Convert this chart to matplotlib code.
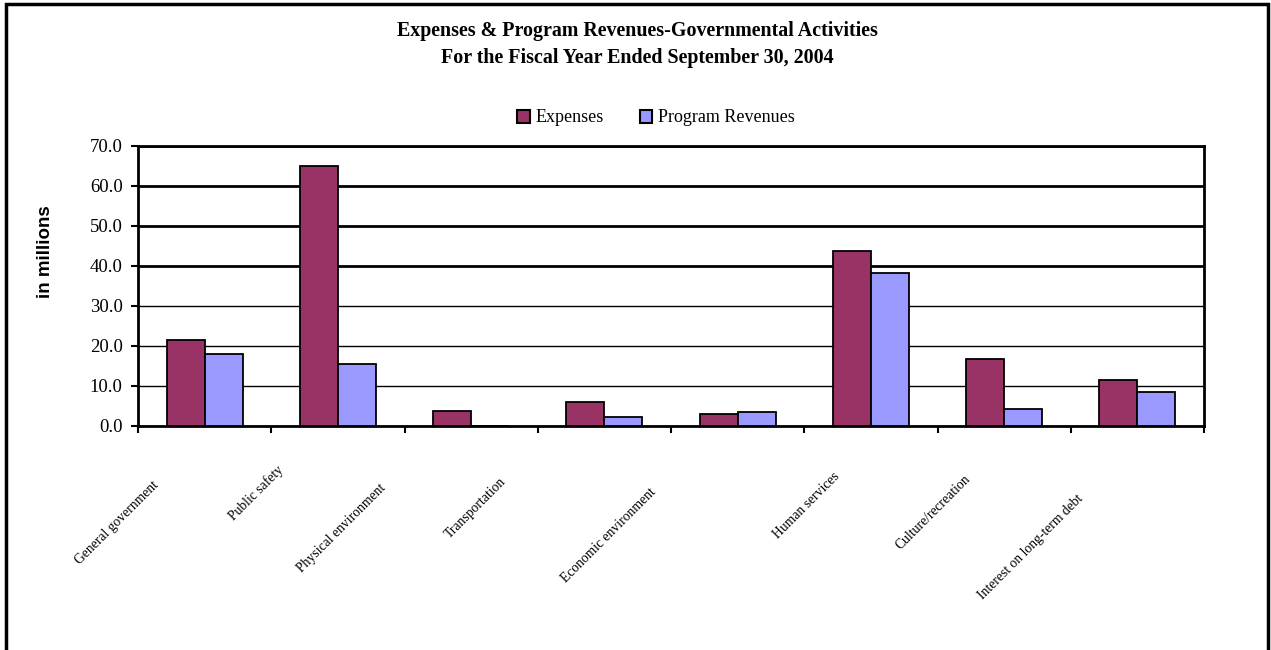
import matplotlib
matplotlib.use("Agg")
import matplotlib.pyplot as plt
import numpy as np
from matplotlib.patches import Rectangle, Patch

categories = ["General government", "Public safety", "Physical environment",
              "Transportation", "Economic environment", "Human services",
              "Culture/recreation", "Interest on long-term debt"]
expenses = [21.4, 65.0, 3.75, 5.9, 2.9, 43.85, 16.75, 11.5]
program_revenues = [17.9, 15.4, 0.0, 2.35, 3.5, 38.35, 4.35, 8.5]
yticks = [0, 10, 20, 30, 40, 50, 60, 70]
title = "Expenses & Program Revenues-Governmental Activities\nFor the Fiscal Year Ended September 30, 2004"

# label placement offsets (pixels from category center at axis bottom)
label_dx = [-88, -82, -130, -129, -129, -64, -71, -107]
label_dy = [97, 67, 102, 82, 109, 80, 86, 121]

serif = "Liberation Serif"
c_exp = "#993366"
c_rev = "#9999FF"

fig = plt.figure(figsize=(12.71, 6.5), dpi=100)
ax = fig.add_axes([138/1271, 1-426/650, (1204-138)/1271, (426-146)/650])

x = np.arange(len(categories))
w = 0.285
ax.bar(x - w/2, expenses, w, color=c_exp, edgecolor="black", linewidth=1.3, zorder=3)
ax.bar(x + w/2, program_revenues, w, color=c_rev, edgecolor="black", linewidth=1.3, zorder=3)

ax.set_xlim(-0.5, len(categories) - 0.5)
ax.set_ylim(0, 70)
ax.set_yticks(yticks)
ax.set_yticklabels([f"{v:.1f}" for v in yticks], fontfamily=serif, fontsize=13.5)
ax.tick_params(axis="y", direction="out", length=5, width=1.5, pad=6)
ax.yaxis.grid(True, color="black", zorder=0)
for i, gl in enumerate(ax.get_ygridlines()):
    gl.set_linewidth(1.0 if yticks[i] < 40 else 2.0)

ax.set_xticks(np.arange(-0.5, len(categories)))
ax.set_xticklabels([])
ax.tick_params(axis="x", direction="out", length=5, width=1.5)

for i, cat in enumerate(categories):
    ax.annotate(cat, xy=(i, 0), xycoords=("data", "axes fraction"),
                xytext=(label_dx[i], -label_dy[i]), textcoords="offset pixels",
                rotation=45, ha="center", va="center", rotation_mode="anchor",
                fontfamily=serif, fontsize=9.8)

for s in ax.spines.values():
    s.set_linewidth(2)
    s.set_color("black")

fig.text(45/1271, 1-252/650, "in millions", rotation=90, ha="center", va="center",
         fontfamily="Liberation Sans", fontweight="bold", fontsize=13.5)

fig.text(637/1271, 1-44.5/650, title, ha="center", va="center",
         fontfamily=serif, fontweight="bold", fontsize=14.4, linespacing=1.42)

handles = [Patch(facecolor=c_exp, edgecolor="black", linewidth=1.5, label="Expenses"),
           Patch(facecolor=c_rev, edgecolor="black", linewidth=1.5, label="Program Revenues")]
fig.legend(handles=handles, loc="center", bbox_to_anchor=(656/1271, 1-118/650), ncol=2,
           frameon=False, prop={"family": serif, "size": 13}, handlelength=0.7,
           handleheight=0.7, handletextpad=0.3, columnspacing=2.0)

fig.patches.append(Rectangle((6/1271, -0.01), (1268-6)/1271, (1-4/650) + 0.01,
                             transform=fig.transFigure, fill=False, edgecolor="black",
                             linewidth=2.5, zorder=10))

fig.savefig("out.png", dpi=100)
